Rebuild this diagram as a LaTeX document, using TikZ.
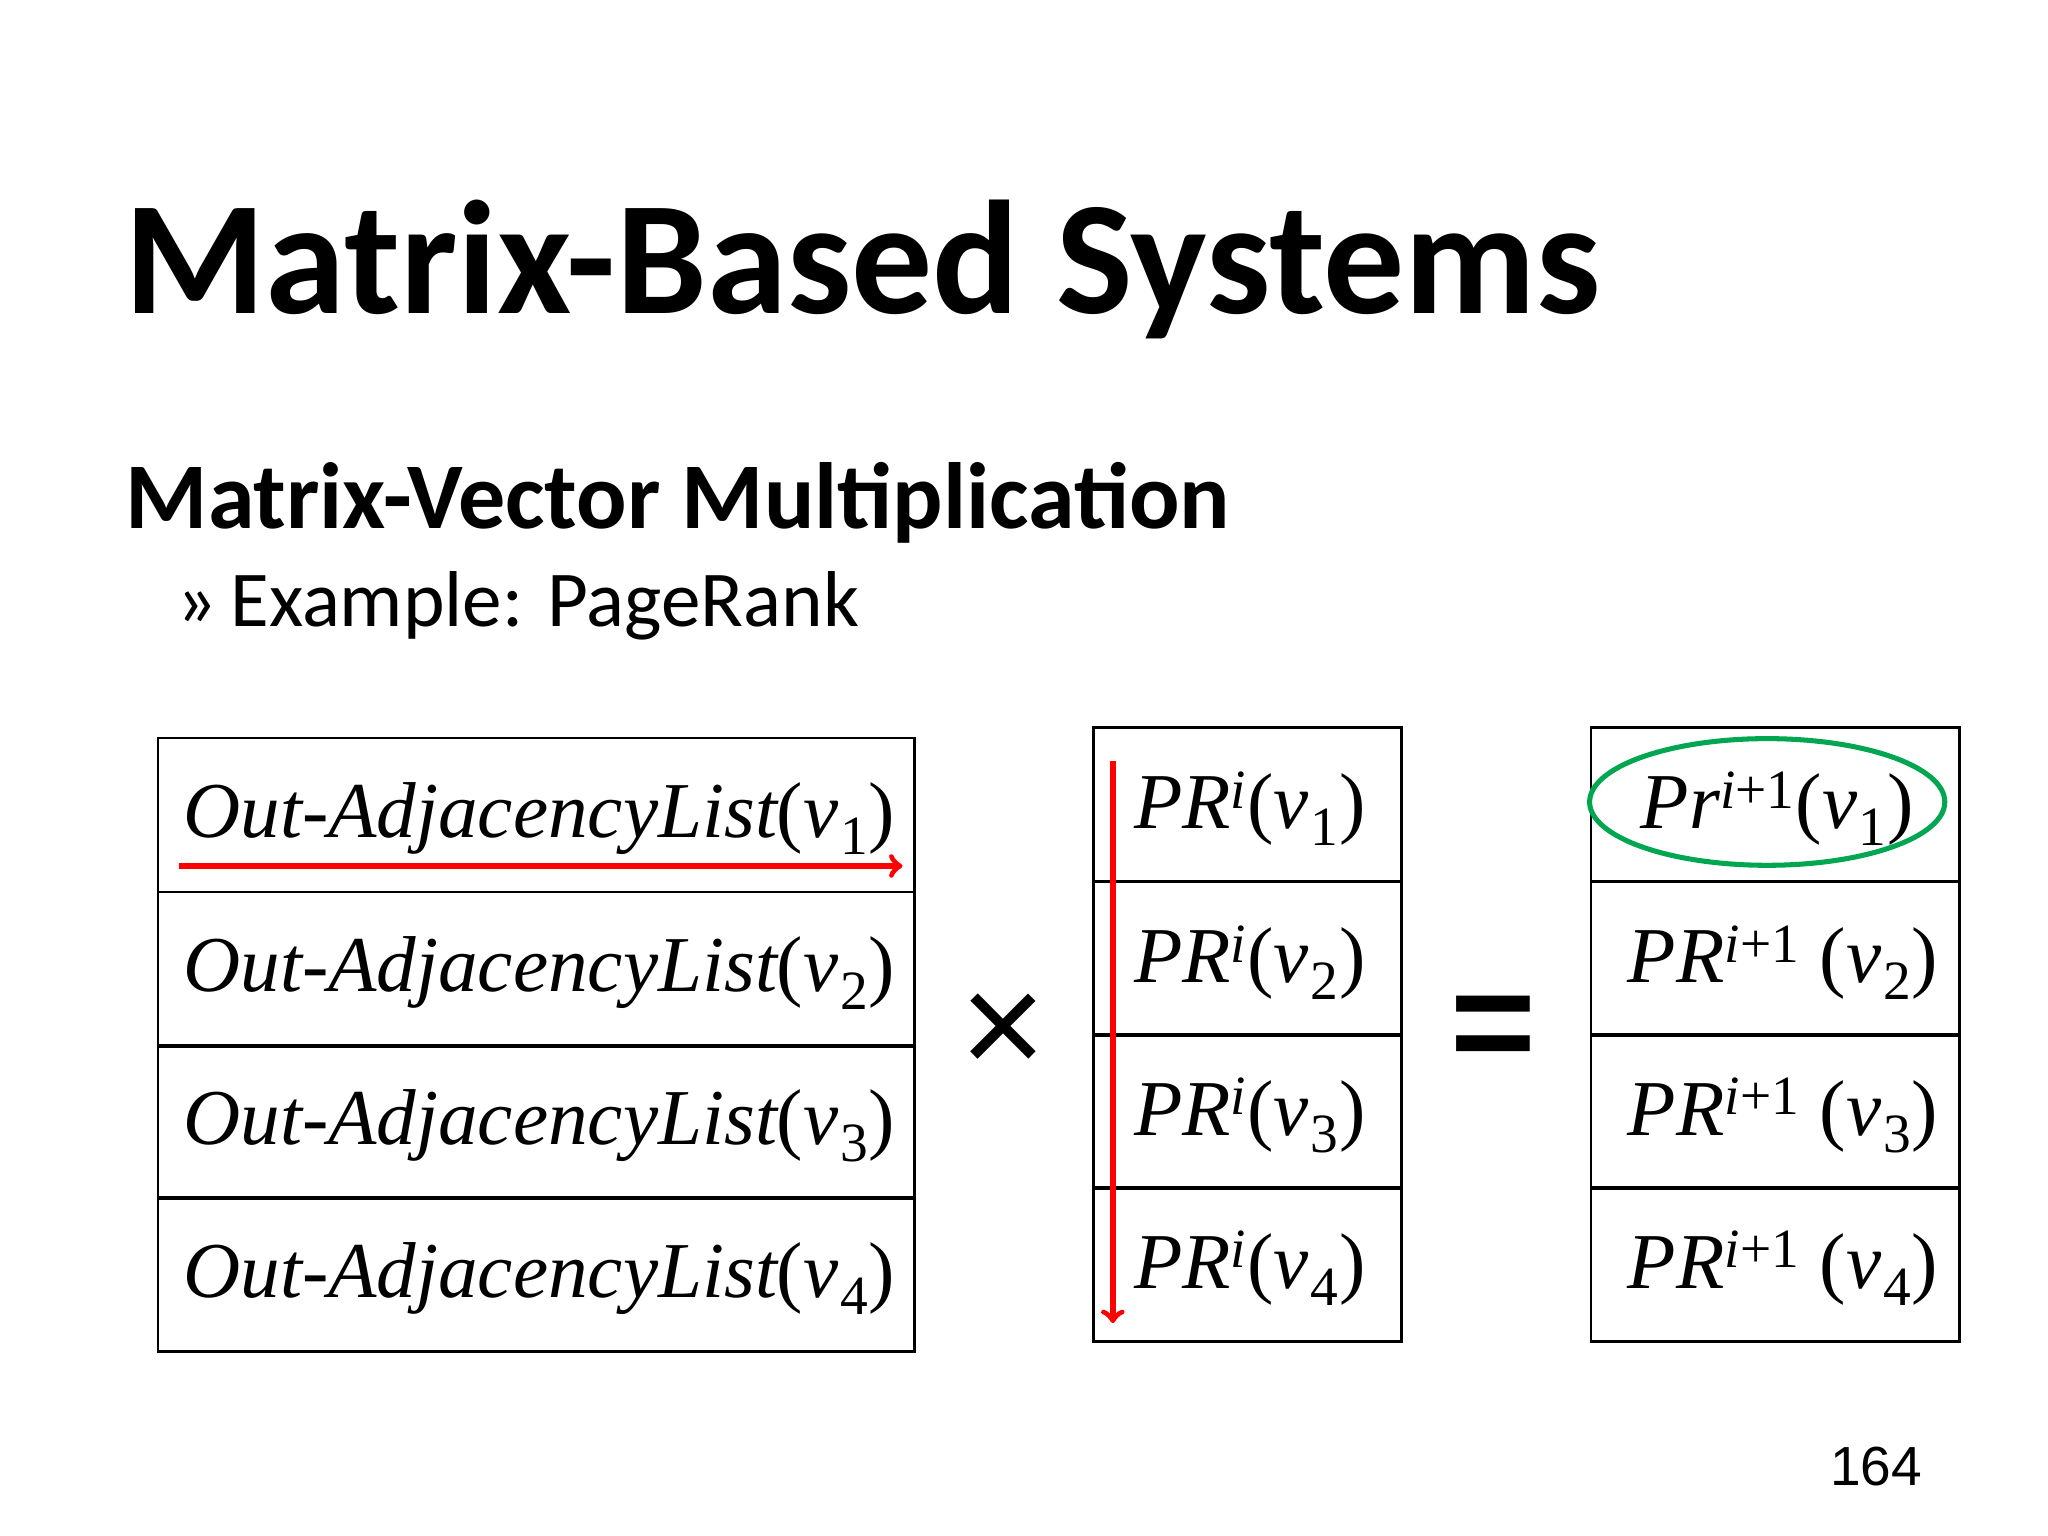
\documentclass[tikz,border=0pt]{standalone}
\usepackage{fontspec}
\usetikzlibrary{shapes.geometric}
\setmainfont{Liberation Serif}
\newfontfamily\carlitofont{Carlito}
\newfontfamily\arialfont{Liberation Sans}
\newcommand{\vsub}[1]{\itshape v\/\kern0.02em\textsubscript{\upshape#1}}
\begin{document}
\begin{tikzpicture}[x=0.02cm,y=-0.02cm,
  ttxt/.style={anchor=west,font=\fontsize{34.5}{40}\selectfont\itshape,inner sep=0pt}]
\useasboundingbox (0,0) rectangle (1568,1176);
\node[anchor=base west,inner sep=0pt,font=\carlitofont\bfseries\fontsize{70.5}{80}\selectfont] (title) at (95,240) {Matrix-Based Systems};
\node[anchor=base west,inner sep=0pt,font=\carlitofont\bfseries\fontsize{41}{50}\selectfont] (sub) at (96,405) {Matrix-Vector Multiplication};
\node[anchor=base west,inner sep=0pt,font=\carlitofont\fontsize{34.5}{40}\selectfont] (ex) at (135,480) {»\,Example: PageRank};
\foreach \i/\y in {1/565,2/683,3/800,4/917}{
  \draw[line width=1.2pt] (121,\y) rectangle (700,\y+118);
  \node[ttxt] (L\i) at (140,\y+62) {Out-AdjacencyList\upshape(\vsub{\i}\upshape)};
}
\foreach \i/\y in {1/557,2/675,3/792,4/909}{
  \draw[line width=1.2pt] (837,\y) rectangle (1073,\y+118);
  \node[ttxt] (M\i) at (868,\y+62) {PR\textsuperscript{i}\upshape(\vsub{\i}\upshape)};
  \draw[line width=1.2pt] (1218,\y) rectangle (1500,\y+118);
}
\node[ttxt] (R1) at (1256,619) {Pr\textsuperscript{i\upshape+1}\upshape(\vsub{1}\upshape)};
\foreach \i/\y in {2/675,3/792,4/909}{
  \node[ttxt] (R\i) at (1246,\y+62) {PR\textsuperscript{i\upshape+1}\upshape\ (\vsub{\i}\upshape)};
}
\coordinate (a1) at (137,663); \coordinate (a2) at (691,663);
\draw[red,line width=2.5pt,->] (a1) -- (a2);
\coordinate (b1) at (852,583); \coordinate (b2) at (852,1013);
\draw[red,line width=2.5pt,->] (b1) -- (b2);
\node[draw={rgb,255:red,0;green,166;blue,80},line width=2.2pt,ellipse,minimum width=5.44cm,minimum height=1.94cm,inner sep=0pt] (ell) at (1353,614) {};
\node[font=\arialfont\fontsize{64}{64}\selectfont,inner sep=0pt] (times) at (768,792) {×};
\node[font=\arialfont\bfseries\fontsize{64}{64}\selectfont,inner sep=0pt] (eq) at (1143,792) {=};
\node[anchor=base east,inner sep=0pt,font=\arialfont\fontsize{24}{24}\selectfont] (pg) at (1472,1137) {164};
\end{tikzpicture}
\end{document}
